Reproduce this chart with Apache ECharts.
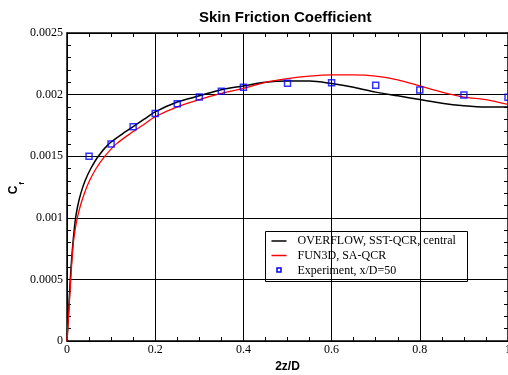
<!DOCTYPE html>
<html><head><meta charset="utf-8">
<script src="https://cdn.jsdelivr.net/npm/echarts@6/dist/echarts.min.js"></script>
<style>html,body{margin:0;padding:0;background:#fff}#c{width:508px;height:375px}</style>
</head><body><div id="c"></div>
<script>
const overflowX = [0, 0.0015, 0.003, 0.0045, 0.006, 0.0075, 0.0093, 0.0113, 0.0136, 0.0163, 0.0195, 0.0245, 0.0315, 0.041, 0.054, 0.071, 0.095, 0.125, 0.15, 0.175, 0.2, 0.25, 0.3, 0.35, 0.4, 0.45, 0.5, 0.55, 0.6, 0.65, 0.7, 0.75, 0.8, 0.85, 0.9, 0.95, 1.0];
const overflowY = [0, 0.0001, 0.0002, 0.0003, 0.0004, 0.0005, 0.0006, 0.0007, 0.0008, 0.0009, 0.001, 0.0011, 0.0012, 0.0013, 0.0014, 0.0015, 0.0016, 0.00168, 0.00174, 0.0018, 0.00186, 0.00194, 0.00199, 0.00204, 0.00207, 0.0021, 0.00211, 0.00211, 0.00209, 0.00206, 0.00202, 0.00199, 0.00196, 0.00193, 0.00191, 0.0019, 0.0019];
const fun3dX = [0, 0.0017, 0.0034, 0.0051, 0.0068, 0.0085, 0.0102, 0.0122, 0.0145, 0.0183, 0.0234, 0.0305, 0.0395, 0.051, 0.066, 0.086, 0.112, 0.15, 0.175, 0.2, 0.25, 0.3, 0.35, 0.4, 0.45, 0.5, 0.55, 0.6, 0.65, 0.7, 0.75, 0.8, 0.85, 0.9, 0.95, 1.0];
const fun3dY = [0, 0.0001, 0.0002, 0.0003, 0.0004, 0.0005, 0.0006, 0.0007, 0.0008, 0.0009, 0.001, 0.0011, 0.0012, 0.0013, 0.0014, 0.0015, 0.0016, 0.0017, 0.00176, 0.00182, 0.0019, 0.00196, 0.00201, 0.00205, 0.0021, 0.00213, 0.00215, 0.00216, 0.00216, 0.00215, 0.00212, 0.00207, 0.00202, 0.00198, 0.00196, 0.00192];
const expX = [0.05, 0.1, 0.15, 0.2, 0.25, 0.3, 0.35, 0.4, 0.5, 0.6, 0.7, 0.8, 0.9, 1.0];
const expY = [0.0015, 0.0016, 0.00174, 0.001846, 0.001926, 0.00198, 0.002027, 0.002059, 0.002092, 0.002097, 0.002075, 0.002037, 0.001997, 0.001978];
const seriesNames = ['OVERFLOW, SST-QCR, central', 'FUN3D, SA-QCR', 'Experiment, x/D=50'];
const titleText = 'Skin Friction Coefficient';
const xName = '2z/D';
const xMin = 0, xMax = 1, xStep = 0.2;
const yMin = 0, yMax = 0.0025, yStep = 0.0005;

const zip = (a, b) => a.map((v, i) => [v, b[i]]);
const serif = 'Liberation Serif';
const sans = 'Liberation Sans';
const blk = '#000';

function axisBase(extra) {
  return Object.assign({
    type: 'value',
    axisLine: { show: true, onZero: false, lineStyle: { color: blk, width: 1.5 } },
    axisTick: { show: true, inside: true, length: 6, lineStyle: { color: blk, width: 1 } },
    minorTick: { show: true, length: 4, lineStyle: { color: blk, width: 1 } },
    axisLabel: { show: false },
    splitLine: { show: false }
  }, extra);
}

const chart = echarts.init(document.getElementById('c'), null, { renderer: 'canvas' });
chart.setOption({
  animation: false,
  backgroundColor: '#fff',
  title: {
    text: titleText, left: 199, top: 10, padding: 0,
    textStyle: { fontFamily: sans, fontSize: 15, fontWeight: 'bold', color: blk }
  },
  grid: { left: 67, right: 0, top: 33, bottom: 34, containLabel: false, outerBoundsMode: 'none' },
  xAxis: [
    axisBase({
      min: xMin, max: xMax, interval: xStep, position: 'bottom',
      minorTick: { show: true, splitNumber: 4, length: 4, lineStyle: { color: blk, width: 1 } },
      axisLabel: { show: true, margin: 3, fontFamily: serif, fontSize: 12, color: blk, hideOverlap: false },
      splitLine: { show: true, lineStyle: { color: blk, width: 1 } },
      name: xName, nameLocation: 'middle', nameGap: 17,
      nameTextStyle: { fontFamily: sans, fontSize: 12, fontWeight: 'bold', color: blk }
    }),
    axisBase({
      min: xMin, max: xMax, interval: xStep, position: 'top',
      minorTick: { show: true, splitNumber: 4, length: 4, lineStyle: { color: blk, width: 1 } }
    })
  ],
  yAxis: [
    axisBase({
      min: yMin, max: yMax, interval: yStep, position: 'left',
      minorTick: { show: true, splitNumber: 5, length: 4, lineStyle: { color: blk, width: 1 } },
      axisLabel: { show: true, margin: 4, fontFamily: serif, fontSize: 12, color: blk },
      splitLine: { show: true, lineStyle: { color: blk, width: 1 } }
    }),
    axisBase({
      min: yMin, max: yMax, interval: yStep, position: 'right',
      minorTick: { show: true, splitNumber: 5, length: 4, lineStyle: { color: blk, width: 1 } }
    })
  ],
  series: [
    {
      name: seriesNames[0], type: 'line', xAxisIndex: 0, yAxisIndex: 0,
      data: zip(overflowX, overflowY), symbol: 'none', smooth: 0.3,
      lineStyle: { color: blk, width: 1.5 }, z: 3
    },
    {
      name: seriesNames[1], type: 'line', xAxisIndex: 0, yAxisIndex: 0,
      data: zip(fun3dX, fun3dY), symbol: 'none', smooth: 0.3,
      lineStyle: { color: '#ff0000', width: 1.3 }, z: 4
    },
    {
      name: seriesNames[2], type: 'scatter', xAxisIndex: 0, yAxisIndex: 0,
      data: zip(expX, expY), symbol: 'rect', symbolSize: 6, clip: false,
      itemStyle: { color: 'rgba(255,255,255,0)', borderColor: '#0000ff', borderWidth: 1.5 }, z: 5
    }
  ],
  graphic: [
    { type: 'text', x: 14, y: 190, rotation: Math.PI / 2,
      style: { text: 'C', font: 'bold 12px "Liberation Sans"', fill: blk, align: 'center', verticalAlign: 'middle' } },
    { type: 'text', x: 21.5, y: 183.5, rotation: Math.PI / 2,
      style: { text: 'f', font: 'bold 8px "Liberation Sans"', fill: blk, align: 'center', verticalAlign: 'middle' } },
    { type: 'group', left: 265, top: 231, z: 100, children: [
      { type: 'rect', shape: { x: 0, y: 0, width: 202, height: 50 }, style: { fill: '#fff', stroke: blk, lineWidth: 1 } },
      { type: 'line', shape: { x1: 6, y1: 9.5, x2: 21, y2: 9.5 }, style: { stroke: blk, lineWidth: 1.5 } },
      { type: 'line', shape: { x1: 6, y1: 24, x2: 21, y2: 24 }, style: { stroke: '#ff0000', lineWidth: 1.5 } },
      { type: 'rect', shape: { x: 11.5, y: 36.5, width: 4, height: 4 }, style: { fill: '#fff', stroke: '#0000ff', lineWidth: 1.5 } },
      { type: 'text', x: 32, y: 9.5, style: { text: seriesNames[0], font: '12px "Liberation Serif"', fill: blk, verticalAlign: 'middle' } },
      { type: 'text', x: 32, y: 24, style: { text: seriesNames[1], font: '12px "Liberation Serif"', fill: blk, verticalAlign: 'middle' } },
      { type: 'text', x: 32, y: 39, style: { text: seriesNames[2], font: '12px "Liberation Serif"', fill: blk, verticalAlign: 'middle' } }
    ] }
  ]
});
</script>
</body></html>
